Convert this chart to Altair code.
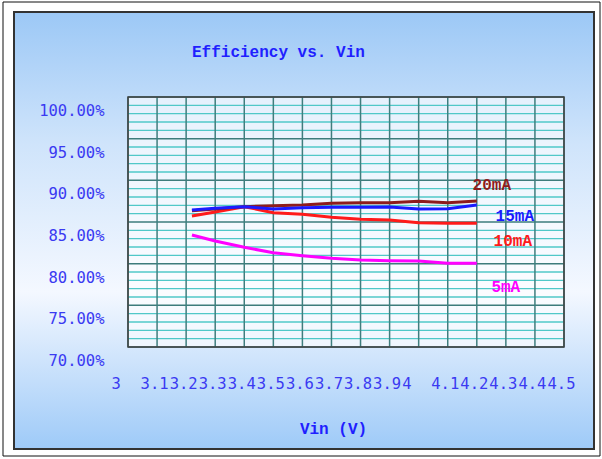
import altair as alt
import pandas as pd

# ---- data ----
vin = [3.22, 3.3, 3.4, 3.5, 3.6, 3.7, 3.8, 3.9, 4.0, 4.1, 4.2]
eff_20mA = [86.36, 86.56, 86.84, 86.96, 87.04, 87.24, 87.32, 87.32, 87.48, 87.30, 87.52]
eff_15mA = [86.44, 86.64, 86.84, 86.56, 86.72, 86.76, 86.76, 86.80, 86.56, 86.60, 87.04]
eff_10mA = [85.72, 86.20, 86.84, 86.12, 85.92, 85.56, 85.32, 85.24, 84.92, 84.84, 84.84]
eff_5mA = [83.44, 82.72, 81.96, 81.32, 80.96, 80.64, 80.44, 80.36, 80.32, 80.04, 80.04]

series_names = ["5mA", "10mA", "20mA", "15mA"]
series_values = [eff_5mA, eff_10mA, eff_20mA, eff_15mA]
series_colors = ["#ff00ff", "#ff1a1a", "#8e1c1c", "#1a1aff"]

x_ticks = [3.0, 3.1, 3.2, 3.3, 3.4, 3.5, 3.6, 3.7, 3.8, 3.9, 4.0, 4.1, 4.2, 4.3, 4.4, 4.5]
y_major = [70, 75, 80, 85, 90, 95, 100]
y_minor = [v for v in range(71, 100) if v % 5 != 0]

chart_title = "Efficiency vs. Vin"
x_title = "Vin (V)"

rows = []
for name, vals in zip(series_names, series_values):
    for x, y in zip(vin, vals):
        rows.append({"series": name, "vin": x, "eff": y})
df = pd.DataFrame(rows)

xscale = alt.Scale(domain=[3, 4.5], nice=False, zero=False)
yscale = alt.Scale(domain=[70, 100], nice=False, zero=False)
cscale = alt.Scale(domain=series_names, range=series_colors)

LABEL_FONT = "DejaVu Sans Mono"
BOLD_FONT = "Liberation Mono"
LABEL_COLOR = "#3a3af2"

x_axis = alt.Axis(
    values=x_ticks, format="~g", grid=False, ticks=False, domain=False, zindex=2,
    labelAlign="left", labelOffset=-17, labelPadding=36, labelBaseline="middle",
    labelFlush=False, labelOverlap=False, labelBound=False,
    labelFont=LABEL_FONT, labelFontSize=15.5, labelColor=LABEL_COLOR,
    title=x_title, titleFont=BOLD_FONT, titleFontSize=16, titleFontWeight="bold",
    titleColor="#1f1fff", titleX=205, titleY=81, titleBaseline="middle", titleAlign="center",
)
y_axis = alt.Axis(
    values=y_major, labelExpr="format(datum.value, '.2f') + '%'",
    grid=False, ticks=False, domain=False, zindex=2,
    labelOffset=13.5, labelPadding=24, labelBaseline="middle",
    labelOverlap=False, labelBound=False, labelFlush=False,
    labelFont=LABEL_FONT, labelFontSize=15.5, labelColor=LABEL_COLOR,
    title=None,
)

one = pd.DataFrame({"a": [0]})

# ---- decorative frame / panel ----
frame = alt.Chart(one).mark_rect(
    fill="white", stroke="#111111", strokeWidth=1
).encode(x=alt.value(-125), x2=alt.value(472), y=alt.value(-95), y2=alt.value(359))

grad = alt.Gradient(
    gradient="linear",
    stops=[
        alt.GradientStop(color="#9cc8f6", offset=0),
        alt.GradientStop(color="#cfe4fb", offset=0.3),
        alt.GradientStop(color="#f4f8ff", offset=0.64),
        alt.GradientStop(color="#9ecaf8", offset=1),
    ],
    x1=0, x2=0, y1=0, y2=1,
)
panel = alt.Chart(one).mark_rect(
    fill=grad, stroke="#333333", strokeWidth=2
).encode(x=alt.value(-114), x2=alt.value(466), y=alt.value(-85), y2=alt.value(352))

title_text = alt.Chart(pd.DataFrame({"t": [chart_title]})).mark_text(
    font=BOLD_FONT, fontSize=16, fontWeight="bold", color="#1f1fff",
    align="left", baseline="middle",
).encode(x=alt.value(64), y=alt.value(-45), text="t:N")

plotfill = alt.Chart(one).mark_rect(
    fill="white", opacity=0.6
).encode(x=alt.value(0), x2=alt.value(436), y=alt.value(0), y2=alt.value(250))

minor = alt.Chart(pd.DataFrame({"eff": y_minor})).mark_rule(
    color="#50c8c8", strokeWidth=1.3
).encode(y=alt.Y("eff:Q", scale=yscale, axis=y_axis))

major = alt.Chart(pd.DataFrame({"eff": y_major})).mark_rule(
    color="#3d7c7c", strokeWidth=1.5
).encode(y=alt.Y("eff:Q", scale=yscale, axis=y_axis))

vert = alt.Chart(pd.DataFrame({"vin": x_ticks})).mark_rule(
    color="#3f7e7e", strokeWidth=1.5
).encode(x=alt.X("vin:Q", scale=xscale, axis=x_axis))

border = alt.Chart(one).mark_rect(
    fillOpacity=0, stroke="#404040", strokeWidth=1.5
).encode(x=alt.value(0), x2=alt.value(436), y=alt.value(0), y2=alt.value(250))

# ---- data lines ----
lines = alt.Chart(df).mark_line(strokeWidth=3).encode(
    x=alt.X("vin:Q", scale=xscale, axis=x_axis),
    y=alt.Y("eff:Q", scale=yscale, axis=y_axis),
    color=alt.Color("series:N", scale=cscale, legend=None),
    order=alt.Order("vin:Q"),
    detail="series:N",
)

# ---- series labels near line ends ----
label_style = {"20mA": (15, -16), "15mA": (38, 11), "10mA": (36, 18), "5mA": (29, 24)}
label_layers = []
for name, vals, col in zip(series_names, series_values, series_colors):
    dx, dy = label_style[name]
    ldf = pd.DataFrame({"series": [name], "vin": [vin[-1]], "eff": [vals[-1]]})
    label_layers.append(
        alt.Chart(ldf).mark_text(
            dx=dx, dy=dy, font=BOLD_FONT, fontSize=16, fontWeight="bold",
            color=col, align="center", baseline="middle",
        ).encode(
            x=alt.X("vin:Q", scale=xscale, axis=x_axis),
            y=alt.Y("eff:Q", scale=yscale, axis=y_axis),
            text="series:N",
        )
    )

chart = alt.layer(
    frame, panel, title_text, plotfill, minor, major, vert, border, lines, *label_layers
).properties(
    width=436,
    height=250,
    autosize=alt.AutoSizeParams(type="none"),
    padding={"left": 128, "top": 97, "right": 38, "bottom": 112},
    background="white",
).configure_view(stroke=None)

chart.save("out.html", embed_options={"renderer": "svg", "actions": False})
